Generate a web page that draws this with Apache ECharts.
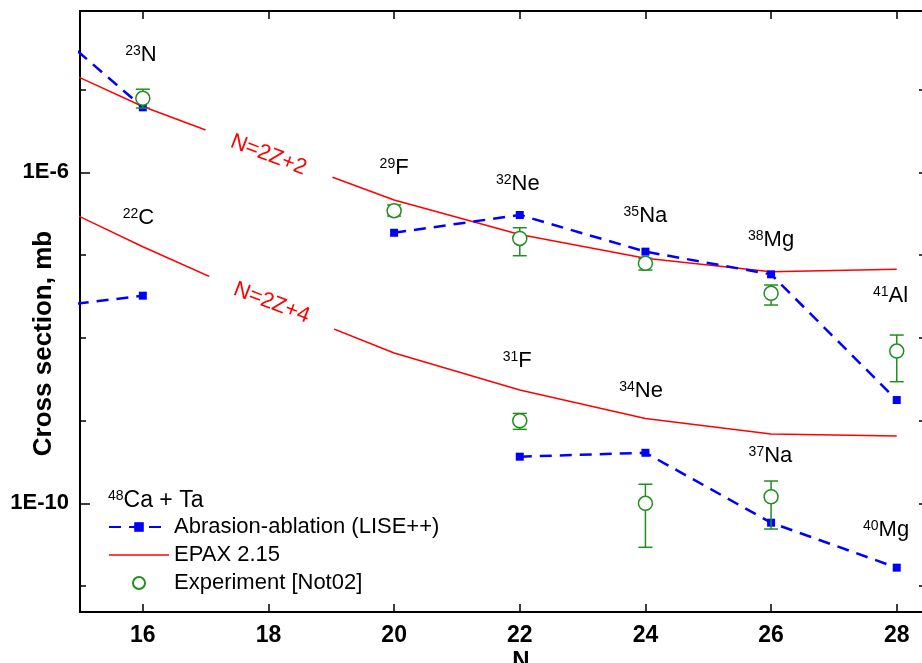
<!DOCTYPE html>
<html>
<head>
<meta charset="utf-8">
<script src="https://cdn.jsdelivr.net/npm/echarts@6/dist/echarts.min.js"></script>
<style>
html,body{margin:0;padding:0;background:#fff;}
#chart{width:922px;height:663px;}
</style>
</head>
<body>
<div id="chart"></div>
<script>
// ---- data ----
const chainN = [14, 16, 18, 20, 22, 24, 26, 28];
// Abrasion-ablation (LISE++)
const lisePlus2 = [1.24e-4, 6.1e-6, null, 1.86e-7, 3.05e-7, 1.1e-7, 5.85e-8, 1.77e-9];
const lisePlus4 = [2.11e-8, 3.23e-8, null, null, 3.66e-10, 4.08e-10, 5.83e-11, 1.67e-11];
// EPAX 2.15
const epaxPlus2 = [3.10e-5, 6.24e-6, 1.69e-6, 4.63e-7, 1.77e-7, 9.14e-8, 6.29e-8, 6.73e-8];
const epaxPlus4 = [6.70e-7, 1.26e-7, 2.64e-8, 6.55e-9, 2.34e-9, 1.06e-9, 6.87e-10, 6.50e-10];
// Experiment [Not02]
const expPlus2N = [16, 20, 22, 24, 26, 28];
const expPlus2 = [7.83e-6, 3.44e-7, 1.59e-7, 7.94e-8, 3.45e-8, 6.92e-9];
const expPlus2Lo = [5.98e-6, 2.96e-7, 9.82e-8, 6.59e-8, 2.49e-8, 2.95e-9];
const expPlus2Hi = [1.01e-5, 4.03e-7, 2.14e-7, 9.14e-8, 4.35e-8, 1.08e-8];
const expPlus4N = [22, 24, 26];
const expPlus4 = [9.95e-10, 1.0e-10, 1.2e-10];
const expPlus4Lo = [7.83e-10, 2.94e-11, 4.89e-11];
const expPlus4Hi = [1.22e-9, 1.70e-10, 1.86e-10];
// nuclide annotations
const annoN = [15.97, 15.93, 20.0, 21.97, 24.0, 26.0, 27.9, 21.96, 23.93, 25.99, 27.83];
const annoY = [2.62e-5, 2.81e-7, 1.13e-6, 7.23e-7, 2.96e-7, 1.52e-7, 3.20e-8, 5.25e-9, 2.28e-9, 3.73e-10, 4.76e-11];
const annoMass = ['23', '22', '29', '32', '35', '38', '41', '31', '34', '37', '40'];
const annoElem = ['N', 'C', 'F', 'Ne', 'Na', 'Mg', 'Al', 'F', 'Ne', 'Na', 'Mg'];
const chainLabelN = [18.0, 18.05];
const chainLabelY = [1.62e-6, 2.64e-8];
const chainLabelText = ['N=2Z+2', 'N=2Z+4'];
// axes
const xTicks = [16, 18, 20, 22, 24, 26, 28];
const yMajor = [1e-6, 1e-10];
const yMinor = [1e-11, 1e-10, 1e-9, 1e-8, 1e-7, 1e-6, 1e-5];
const xMin = 15, xMax = 28.45;
const yMin = 4.86e-12, yMax = 8.9e-5;

// ---- chart ----
const FONT = "'Liberation Sans', Arial, Helvetica, sans-serif";
const BLUE = '#0000ff', RED = '#ff0000', GREEN = '#1f8f1f';
const zip = (a, b) => a.map((v, i) => [v, b[i] == null ? '-' : b[i]]);

const chart = echarts.init(document.getElementById('chart'), null, {renderer: 'canvas'});

function errItem(params, api) {
  const x = api.value(0);
  const lo = api.coord([x, api.value(1)]);
  const hi = api.coord([x, api.value(2)]);
  const w = 7;
  const style = {stroke: GREEN, lineWidth: 1.5, fill: null};
  return {
    type: 'group',
    children: [
      {type: 'line', shape: {x1: lo[0], y1: lo[1], x2: hi[0], y2: hi[1]}, style: style},
      {type: 'line', shape: {x1: lo[0] - w, y1: lo[1], x2: lo[0] + w, y2: lo[1]}, style: style},
      {type: 'line', shape: {x1: hi[0] - w, y1: hi[1], x2: hi[0] + w, y2: hi[1]}, style: style}
    ]
  };
}

const axisLineStyle = {color: '#000', width: 2};
const tickStyle = {color: '#000', width: 1.5};

const option = {
  backgroundColor: '#fff',
  animation: false,
  textStyle: {fontFamily: FONT},
  title: {
    text: '{s|48}{b|Ca + Ta}',
    left: 103, top: 484,
    textStyle: {
      rich: {
        s: {fontSize: 14, fontFamily: FONT, color: '#000', fontWeight: 'normal', verticalAlign: 'top'},
        b: {fontSize: 23, fontFamily: FONT, color: '#000', fontWeight: 'normal'}
      }
    }
  },
  legend: {
    orient: 'vertical',
    left: 103, top: 511,
    itemWidth: 60, itemHeight: 12, itemGap: 6,
    textStyle: {fontSize: 22, fontFamily: FONT, color: '#000'},
    data: [
      'Abrasion-ablation (LISE++)',
      {name: 'EPAX 2.15', icon: 'path://M0,0L40,0L40,1L0,1Z'},
      'Experiment [Not02]'
    ]
  },
  grid: {left: 80, width: 845, top: 11, bottom: 51, containLabel: false, outerBoundsMode: 'none'},
  xAxis: [
    {
      type: 'value', position: 'bottom', min: xMin, max: xMax,
      name: 'N', nameLocation: 'middle', nameGap: 37, nameMoveOverlap: false,
      nameTextStyle: {fontSize: 24, fontWeight: 'bold', fontFamily: FONT, color: '#000', padding: [0, 0, 0, 37]},
      axisLine: {show: true, onZero: false, lineStyle: axisLineStyle},
      axisTick: {show: true, inside: true, length: 8, customValues: xTicks, lineStyle: tickStyle},
      axisLabel: {customValues: xTicks, fontSize: 23, fontWeight: 'bold', fontFamily: FONT, color: '#000', margin: 12},
      splitLine: {show: false}
    },
    {
      type: 'value', position: 'top', min: xMin, max: xMax,
      axisLine: {show: true, onZero: false, lineStyle: axisLineStyle},
      axisTick: {show: true, inside: true, length: 8, customValues: xTicks, lineStyle: tickStyle},
      axisLabel: {show: false},
      splitLine: {show: false}
    }
  ],
  yAxis: [
    {
      type: 'log', position: 'left', min: yMin, max: yMax, logBase: 10,
      name: 'Cross section, mb', nameLocation: 'middle', nameGap: 23, nameRotate: 90, nameMoveOverlap: false,
      nameTextStyle: {fontSize: 26, fontWeight: 'bold', fontFamily: FONT, color: '#000', padding: [0, 64, 0, 0]},
      axisLine: {show: true, onZero: false, lineStyle: axisLineStyle},
      axisTick: {show: true, inside: true, length: 10, customValues: yMajor, lineStyle: tickStyle},
      axisLabel: {
        customValues: yMajor, fontSize: 22, fontWeight: 'bold', fontFamily: FONT, color: '#000', margin: 11,
        formatter: v => '1E' + Math.round(Math.log10(v))
      },
      splitLine: {show: false}
    },
    {
      type: 'log', position: 'left', min: yMin, max: yMax, logBase: 10,
      axisLine: {show: false, onZero: false},
      axisTick: {show: true, inside: true, length: 6, customValues: yMinor, lineStyle: tickStyle},
      axisLabel: {show: false},
      splitLine: {show: false}
    },
    {
      type: 'log', position: 'right', min: yMin, max: yMax, logBase: 10,
      axisLine: {show: false, onZero: false},
      axisTick: {show: true, inside: true, length: 6, customValues: yMinor, lineStyle: tickStyle},
      axisLabel: {show: false},
      splitLine: {show: false}
    }
  ],
  series: [
    {
      name: 'EPAX 2.15', type: 'line', data: zip(chainN, epaxPlus2),
      symbol: 'none', color: RED, lineStyle: {color: RED, width: 1.5}, clip: true, z: 2
    },
    {
      name: 'EPAX 2.15', type: 'line', data: zip(chainN, epaxPlus4),
      symbol: 'none', color: RED, lineStyle: {color: RED, width: 1.5}, clip: true, z: 2
    },
    {
      name: 'Abrasion-ablation (LISE++)', type: 'line', data: zip(chainN, lisePlus2),
      symbol: 'rect', symbolSize: 8, color: BLUE, itemStyle: {color: BLUE},
      lineStyle: {color: BLUE, width: 2.5, type: [12, 8]}, connectNulls: false, clip: true, z: 3
    },
    {
      name: 'Abrasion-ablation (LISE++)', type: 'line', data: zip(chainN, lisePlus4),
      symbol: 'rect', symbolSize: 8, color: BLUE, itemStyle: {color: BLUE},
      lineStyle: {color: BLUE, width: 2.5, type: [12, 8]}, connectNulls: false, clip: true, z: 3
    },
    {
      name: 'Experiment [Not02]', type: 'scatter',
      data: expPlus2N.map((n, i) => [n, expPlus2[i]]).concat(expPlus4N.map((n, i) => [n, expPlus4[i]])),
      symbol: 'circle', symbolSize: 14, color: GREEN,
      itemStyle: {color: '#fff', borderColor: GREEN, borderWidth: 1.5, opacity: 1}, z: 5
    },
    {
      name: 'errbars', type: 'custom', renderItem: errItem, clip: true, z: 4,
      encode: {x: 0, y: [1, 2]},
      data: expPlus2N.map((n, i) => [n, expPlus2Lo[i], expPlus2Hi[i]])
        .concat(expPlus4N.map((n, i) => [n, expPlus4Lo[i], expPlus4Hi[i]]))
    },
    {
      name: 'chainLabels', type: 'scatter', silent: true, z: 6,
      data: chainLabelN.map((n, i) => [n, chainLabelY[i], chainLabelText[i]]),
      symbolSize: 1, itemStyle: {color: 'rgba(0,0,0,0)', opacity: 1},
      label: {
        show: true, position: 'inside', rotate: -21, opacity: 1,
        formatter: p => p.data[2],
        fontSize: 22, fontFamily: FONT, color: RED,
        backgroundColor: '#fff', padding: [1, 28]
      }
    },
    {
      name: 'nuclides', type: 'scatter', silent: true, z: 7,
      data: annoN.map((n, i) => [n, annoY[i], annoMass[i], annoElem[i]]),
      symbolSize: 1, itemStyle: {color: 'rgba(0,0,0,0)', opacity: 1},
      label: {
        show: true, position: 'inside', opacity: 1,
        formatter: p => '{s|' + p.data[2] + '}{b|' + p.data[3] + '}',
        rich: {
          s: {fontSize: 14, fontFamily: FONT, color: '#000', verticalAlign: 'top'},
          b: {fontSize: 22, fontFamily: FONT, color: '#000'}
        }
      }
    }
  ]
};
chart.setOption(option);
</script>
</body>
</html>
